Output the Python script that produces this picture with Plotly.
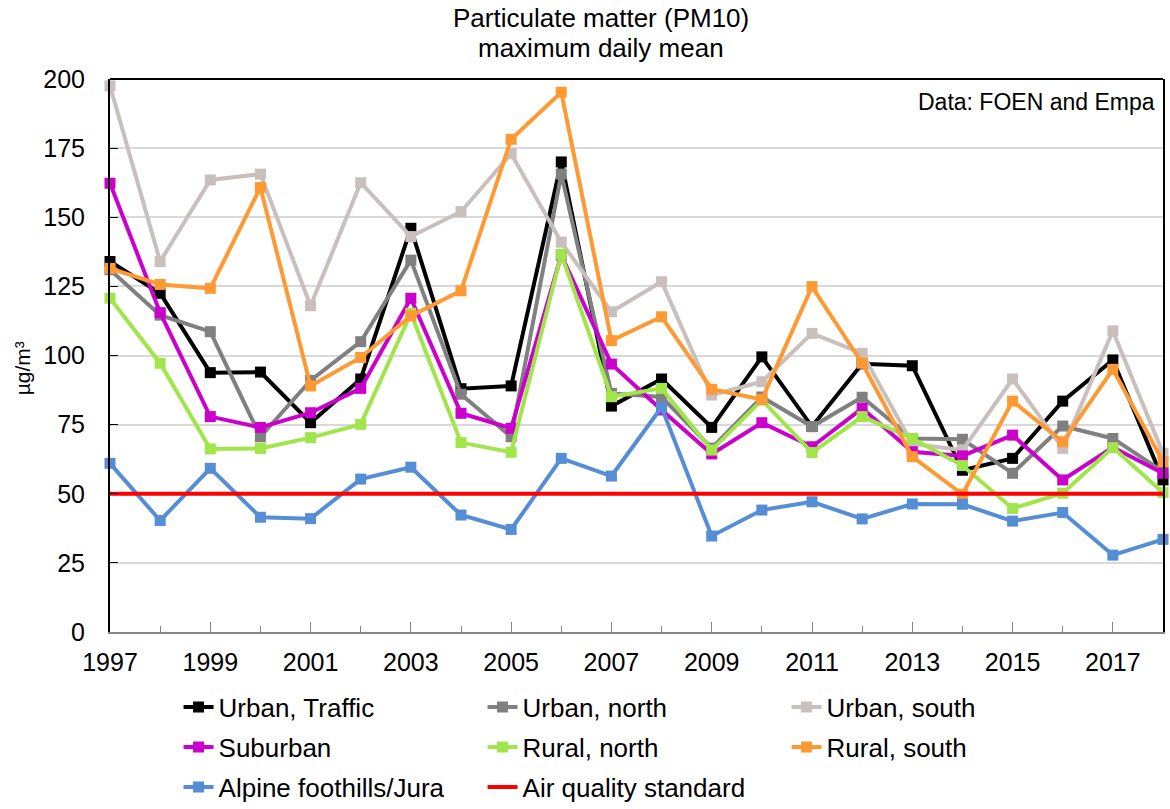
import plotly.graph_objects as go

years = list(range(1997, 2019))

urban_traffic = [134, 122.5, 93.8, 94, 75.7, 91.5, 146, 88, 89, 170, 81.7, 91.5,
                 74, 99.5, 74.3, 97, 96.3, 58.5, 62.8, 83.5, 98.4, 55]
urban_north = [131, 114.6, 108.6, 70.6, 91, 105, 134.5, 86, 70.6, 165.6, 86.3, 85,
               66.5, 85, 74.3, 84.9, 70, 69.7, 57.4, 74.5, 70, 58]
urban_south = [197.5, 134, 163.5, 165.6, 118, 162.5, 143, 152, 173, 141, 115.8, 126.7,
               85.7, 90.5, 108, 100.8, 68, 65.8, 91.5, 66.4, 108.9, 64.6]
suburban = [162.3, 115.5, 77.9, 74, 79.3, 88.1, 120.7, 79.1, 73.7, 136.3, 96.9, 80.3,
            64.4, 75.7, 67, 80.9, 65.2, 63.7, 71.2, 55, 66.8, 57.4]
rural_north = [120.7, 97.2, 66.2, 66.4, 70.3, 75.1, 115.3, 68.5, 65, 136.6, 85.1, 88.1,
               65.8, 83.9, 64.9, 77.9, 70, 60.2, 44.7, 50.2, 66.7, 50.4]
rural_south = [131.5, 125.7, 124.3, 160.8, 89, 99.3, 114.3, 123.4, 178.2, 195.2, 105.4, 114,
               87.8, 84.1, 124.9, 97.2, 63.4, 49.8, 83.5, 68.8, 95, 61.6]
alpine = [61, 40.3, 59.2, 41.5, 41, 55.3, 59.6, 42.3, 37.1, 62.8, 56.4, 81.3,
          34.7, 44.1, 47.1, 40.9, 46.3, 46.2, 40.1, 43.2, 27.8, 33.5]
air_quality_standard = [50] * len(years)

series = [
    ("Urban, Traffic", urban_traffic, "#000000", "legend"),
    ("Urban, north", urban_north, "#808080", "legend"),
    ("Urban, south", urban_south, "#C9C0BD", "legend"),
    ("Suburban", suburban, "#CC00CC", "legend2"),
    ("Rural, north", rural_north, "#A0E64B", "legend2"),
    ("Rural, south", rural_south, "#FF9933", "legend2"),
    ("Alpine foothills/Jura", alpine, "#558ED5", "legend3"),
]

y_ticks = [0, 25, 50, 75, 100, 125, 150, 175, 200]
x_ticks = list(range(1997, 2018, 2))

FONT = "Liberation Sans, Arial, sans-serif"

fig = go.Figure()
for name, vals, color, lg in series:
    fig.add_trace(go.Scatter(
        x=years, y=vals, name=name, mode="lines+markers", legend=lg,
        line=dict(color=color, width=4),
        marker=dict(symbol="square", size=11, color=color),
        cliponaxis=False,
    ))
fig.add_trace(go.Scatter(
    x=years, y=air_quality_standard, name="Air quality standard", mode="lines",
    legend="legend3", line=dict(color="#FF0000", width=4), cliponaxis=False,
))

def legend_row(ypos):
    return dict(
        orientation="h", x=0.0651, xanchor="left", y=ypos, yanchor="middle",
        entrywidth=259, entrywidthmode="pixels",
        font=dict(size=26, family=FONT), traceorder="normal",
        bgcolor="rgba(0,0,0,0)", itemwidth=30,
    )

fig.update_layout(
    width=1170, height=809,
    margin=dict(l=110, r=7, t=79, b=177, autoexpand=False),
    paper_bgcolor="white", plot_bgcolor="white",
    font=dict(family=FONT, size=25, color="#000000"),
    showlegend=True,
    legend=legend_row(-0.1356),
    legend2=legend_row(-0.2080),
    legend3=legend_row(-0.2803),
    xaxis=dict(
        range=[1997, 2018], tickmode="array", tickvals=x_ticks,
        ticktext=[str(v) for v in x_ticks], automargin=False,
        ticks="inside", ticklen=10, tickcolor="#868686", tickwidth=1,
        minor=dict(ticks="inside", ticklen=6, tickcolor="#868686", dtick=1, tick0=1997, showgrid=False),
        showline=True, linecolor="#868686", linewidth=2, mirror=False,
        showgrid=False, zeroline=False,
        tickfont=dict(size=25, family=FONT), ticklabelstandoff=7,
    ),
    yaxis=dict(
        range=[0, 200], tickmode="array", tickvals=y_ticks, automargin=False,
        ticks="inside", ticklen=8, tickcolor="#000000", tickwidth=1,
        showline=True, linecolor="#000000", linewidth=2, mirror=True,
        showgrid=True, gridcolor="#D9D9D9", gridwidth=1.5, zeroline=False,
        tickfont=dict(size=25, family=FONT), ticklabelstandoff=18,
    ),
    shapes=[dict(type="line", xref="paper", yref="paper", x0=0, x1=1, y0=1, y1=1,
                 line=dict(color="#000000", width=2))],
    annotations=[
        dict(text="Particulate matter (PM10)", xref="paper", yref="paper",
             x=0.4663, y=1.1103, xanchor="center", yanchor="middle", showarrow=False,
             font=dict(size=26, family=FONT, color="#000000")),
        dict(text="maximum daily mean", xref="paper", yref="paper",
             x=0.4663, y=1.056, xanchor="center", yanchor="middle", showarrow=False,
             font=dict(size=26, family=FONT, color="#000000")),
        dict(text="µg/m³", xref="paper", yref="paper", x=-0.0835, y=0.477,
             xanchor="center", yanchor="middle", textangle=-90, showarrow=False,
             font=dict(size=21, family=FONT, color="#000000")),
        dict(text="Data: FOEN and Empa", xref="paper", yref="paper",
             x=0.9943, y=0.9585, xanchor="right", yanchor="middle", showarrow=False,
             font=dict(size=23, family=FONT, color="#000000")),
    ],
)

fig.write_html("out.html", config={"displayModeBar": False},
               post_script="document.body.style.margin='0px';")
